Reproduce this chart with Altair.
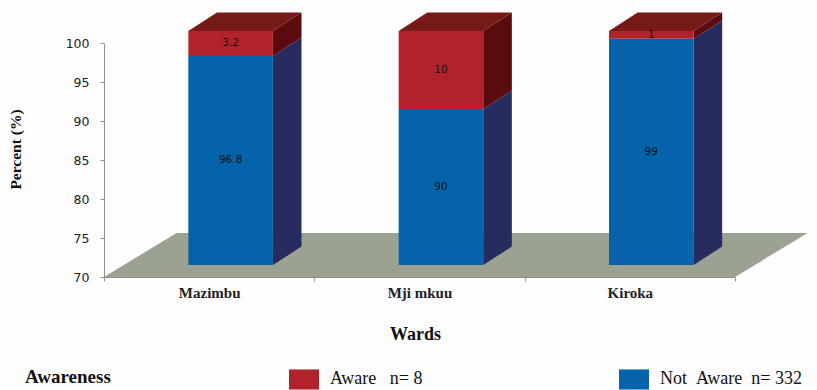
import altair as alt
import pandas as pd

wards = ["Mazimbu", "Mji mkuu", "Kiroka"]
not_aware = [96.8, 90, 99]
aware = [3.2, 10, 1]
series_labels = ["Aware\u00a0\u00a0\u00a0n= 8", "\u00a0\u00a0Not\u00a0\u00a0Aware\u00a0\u00a0n= 332"]

BLUE, BLUE_SIDE = "#0563ac", "#262c5f"
RED, RED_SIDE, RED_TOP = "#b2222b", "#5a0b0d", "#761919"
FLOOR = "#9ba291"
SERIF = "Liberation Serif"

# Oblique projection of the chart box, in axis units (wards on x, percent on y)
BASE = 70
BAR_WIDTH = 0.402
FRONT_DX, FRONT_DY = 0.102, 1.54
BACK_DX, BACK_DY = 0.238, 3.9
FLOOR_DX, FLOOR_DY = 0.345, 5.65

fronts, sides, tops, labels = [], [], [], []
for i, ward in enumerate(wards):
    left = i + 0.5 + FRONT_DX - BAR_WIDTH / 2
    right = left + BAR_WIDTH
    centre = left + BAR_WIDTH / 2
    shift = BACK_DX - FRONT_DX
    total = not_aware[i] + aware[i]
    for name, low, high, value in [
        (series_labels[1], BASE, not_aware[i], not_aware[i]),
        (series_labels[0], not_aware[i], total, aware[i]),
    ]:
        fronts.append({"x": left, "x2": right, "y": low + FRONT_DY, "y2": high + FRONT_DY,
                       "series": name})
        for x, dy in [(right, FRONT_DY), (right + shift, BACK_DY)]:
            sides.append({"ward": ward, "series": name, "x": x, "y": low + dy, "y2": high + dy})
        labels.append({"x": centre, "y": (low + high) / 2 + FRONT_DY, "value": value})
    for dx, dy in [(0, FRONT_DY), (shift, BACK_DY)]:
        tops.append({"ward": ward, "x": left + dx, "x2": right + dx, "y": total + dy})

sides = pd.DataFrame(sides)
x_scale = alt.Scale(domain=[0, 3], nice=False, zero=False)
y_scale = alt.Scale(domain=[70, 100], nice=False, zero=False)
X = alt.X("x:Q", scale=x_scale, axis=None)

# Every layer carries the same percent axis so the shared scale keeps one definition
percent_axis = alt.Axis(
    values=[70, 75, 80, 85, 90, 95, 100], grid=False, title="Percent (%)", titleY=106,
    labelOverlap=False,
    labelFont="DejaVu Sans", labelFontSize=12.5, labelColor="#222222", labelPadding=11,
    titleFont=SERIF, titleFontSize=15.5, titleFontWeight="bold", titleColor="#111111",
    titlePadding=42, domainColor="#8f8f8f", tickColor="#8f8f8f", tickSize=4,
)
Y = alt.Y("y:Q", scale=y_scale, stack=None, axis=percent_axis)

axis_layer = alt.Chart(pd.DataFrame({"ward": wards})).mark_rule(opacity=0).encode(
    x=alt.X(
        "ward:N", sort=wards,
        scale=alt.Scale(domain=wards, paddingInner=0, paddingOuter=0),
        axis=alt.Axis(
            title="Wards", titleX=311,
            tickBand="extent", labelAngle=0, labelFont=SERIF, labelFontSize=15,
            labelFontWeight="bold", labelColor="#222222", labelPadding=4,
            titleFont=SERIF, titleFontSize=18, titleFontWeight="bold", titleColor="#111111",
            titlePadding=25, domainColor="#8f8f8f", tickColor="#8f8f8f", tickSize=4,
        ),
    ),
)

floor = alt.Chart(pd.DataFrame([
    {"x": 0, "x2": 3, "y": BASE},
    {"x": FLOOR_DX, "x2": 3 + FLOOR_DX, "y": BASE + FLOOR_DY},
])).mark_area(orient="horizontal", color=FLOOR, opacity=1).encode(y=Y, x=X, x2="x2:Q")

def side_layer(name, colour):
    return alt.Chart(sides[sides.series == name]).mark_area(color=colour, opacity=1).encode(
        x=X, y=Y, y2="y2:Q", detail="ward:N",
    )

top_faces = alt.Chart(pd.DataFrame(tops)).mark_area(
    orient="horizontal", color=RED_TOP, opacity=1
).encode(y=Y, x=X, x2="x2:Q", detail="ward:N")

front_faces = alt.Chart(pd.DataFrame(fronts)).mark_rect().encode(
    x=X, x2="x2:Q",
    y=Y, y2="y2:Q",
    color=alt.Color(
        "series:N",
        scale=alt.Scale(domain=series_labels, range=[RED, BLUE]),
        legend=alt.Legend(
            orient="none", legendX=-79, legendY=321, direction="horizontal", columns=2,
            title="Awareness", titleOrient="left", titleFont=SERIF, titleFontSize=19,
            titleFontWeight="bold", titleColor="#111111", titlePadding=178,
            labelFont=SERIF, labelFontSize=18, labelColor="#111111", labelOffset=11,
            labelLimit=300, columnPadding=196, padding=0,
            symbolType="M-1,-0.67H1V0.67H-1Z", symbolSize=900, symbolStrokeWidth=0,
            symbolOpacity=1,
        ),
    ),
)

value_labels = alt.Chart(pd.DataFrame(labels)).mark_text(
    font="DejaVu Sans", fontSize=10.5, color="#111111"
).encode(x=X, y=Y, text="value:Q")

chart = alt.layer(
    axis_layer, floor,
    side_layer(series_labels[1], BLUE_SIDE), side_layer(series_labels[0], RED_SIDE),
    top_faces, front_faces, value_labels,
).resolve_scale(x="independent").properties(
    width=631, height=234,
    autosize=alt.AutoSizeParams(type="none"),
    padding={"left": 104, "top": 43, "right": 82, "bottom": 113},
    background="#fdfdfd",
).configure_view(stroke=None)

chart.save("out.html", embed_options={"renderer": "svg", "actions": False})
